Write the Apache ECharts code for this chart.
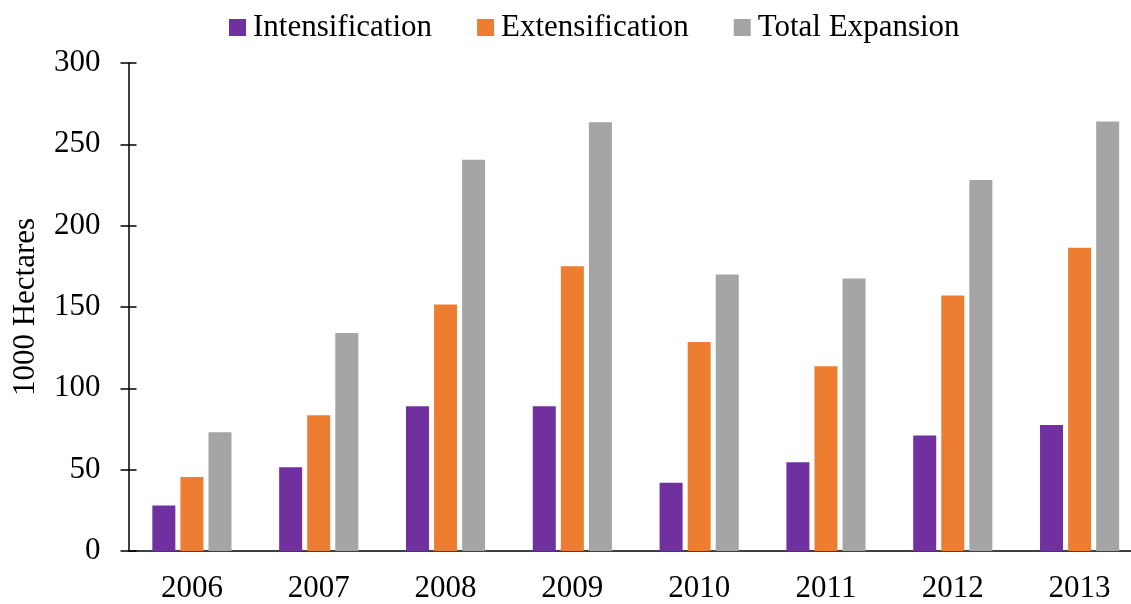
<!DOCTYPE html>
<html>
<head>
<meta charset="utf-8">
<script src="https://cdn.jsdelivr.net/npm/echarts@6/dist/echarts.min.js"></script>
<style>
  html, body { margin: 0; padding: 0; background: #fff; overflow: hidden; }
  #chart { width: 1143px; height: 604px; }
</style>
</head>
<body>
<div id="chart"></div>
<script>
// Cropland expansion by year (thousand hectares)
const years = ['2006', '2007', '2008', '2009', '2010', '2011', '2012', '2013'];
const intensification = [28, 51.5, 89, 89, 42, 54.5, 71, 77.5];
const extensification = [45.5, 83.5, 151.5, 175, 128.5, 113.5, 157, 186.5];
const totalExpansion = [73, 134, 240.5, 263.5, 170, 167.5, 228, 264];
const yTicks = { min: 0, max: 300, interval: 50 };

const font = 'Liberation Serif, Times New Roman, serif';
const chart = echarts.init(document.getElementById('chart'));

const barSeries = (name, data, color) => ({
  name, type: 'bar', data,
  barWidth: 23,
  barGap: '22%',
  itemStyle: { color },
  emphasis: { disabled: true }
});

chart.setOption({
  animation: false,
  textStyle: { fontFamily: font },
  legend: {
    top: 7,
    left: 224,
    itemWidth: 17,
    itemHeight: 17,
    itemGap: 45,
    icon: 'rect',
    textStyle: { fontFamily: font, fontSize: 31, color: '#000', padding: [0, 0, 0, 2] },
    data: ['Intensification', 'Extensification', 'Total Expansion']
  },
  grid: { left: 128.5, right: 0, top: 63, bottom: 53, containLabel: false },
  xAxis: {
    type: 'category',
    data: years,
    axisLine: { show: true, lineStyle: { color: '#000', width: 1.5 } },
    axisTick: { show: false },
    axisLabel: { fontFamily: font, fontSize: 31, color: '#000', margin: 22 },
    splitLine: { show: false }
  },
  yAxis: [
    {
      type: 'value',
      min: yTicks.min, max: yTicks.max, interval: yTicks.interval,
      name: '1000 Hectares',
      nameLocation: 'middle',
      nameGap: 87,
      nameTextStyle: { fontFamily: font, fontSize: 31, color: '#000' },
      axisLine: { show: true, lineStyle: { color: '#000', width: 1.5 } },
      axisTick: { show: true, inside: false, length: 8, lineStyle: { color: '#000', width: 1.5 } },
      axisLabel: { fontFamily: font, fontSize: 31, color: '#000', margin: 28 },
      splitLine: { show: false }
    },
    {
      // inner half of the cross ticks
      type: 'value',
      position: 'left',
      min: yTicks.min, max: yTicks.max, interval: yTicks.interval,
      axisLine: { show: false },
      axisTick: { show: true, inside: true, length: 8, lineStyle: { color: '#000', width: 1.5 } },
      axisLabel: { show: false },
      splitLine: { show: false }
    }
  ],
  series: [
    barSeries('Intensification', intensification, '#7030A0'),
    barSeries('Extensification', extensification, '#ED7D31'),
    barSeries('Total Expansion', totalExpansion, '#A5A5A5')
  ]
});
</script>
</body>
</html>
